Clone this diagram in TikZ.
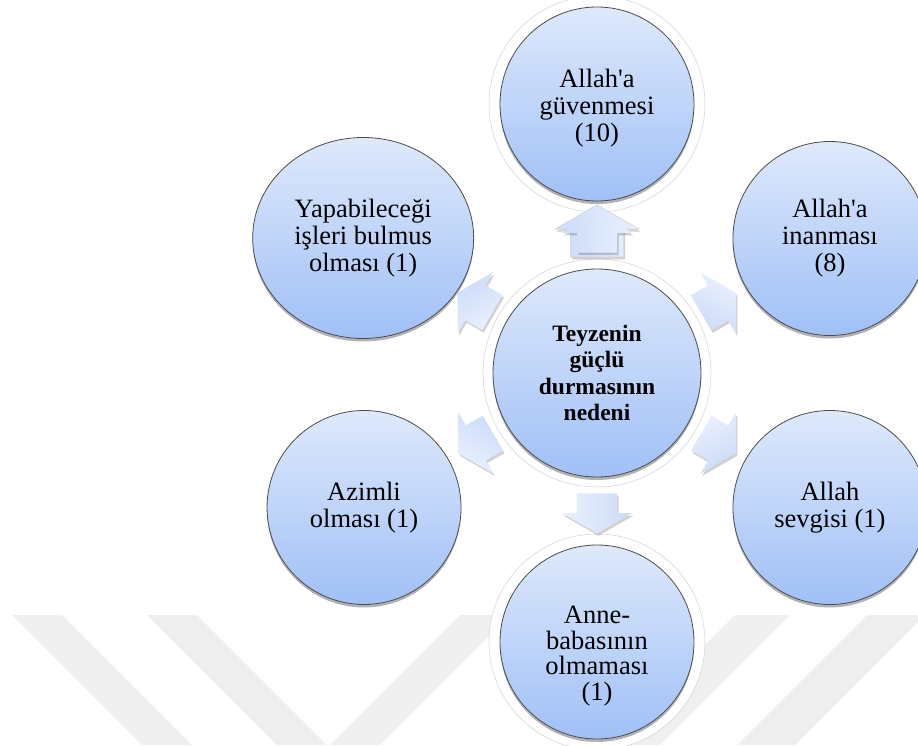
\documentclass[tikz,border=0pt]{standalone}
\usepackage{fontspec}
\setmainfont{Liberation Serif}
\usetikzlibrary{positioning,calc,shapes.arrows,shapes.geometric,shadows}

\definecolor{bubtop}{RGB}{222,233,252}
\definecolor{bubbot}{RGB}{160,192,246}
\definecolor{arrtop}{RGB}{234,241,253}
\definecolor{arrbot}{RGB}{203,219,249}
\definecolor{wmark}{RGB}{239,239,239}

\begin{document}
\begin{tikzpicture}[x=1pt, y=1pt,
  bubble/.style={circle, draw=black!70, line width=0.8pt,
                 top color=bubtop, bottom color=bubbot,
                 minimum size=194pt, inner sep=0pt, align=center,
                 font=\fontsize{26.5}{27}\selectfont,
                 drop shadow={shadow xshift=0pt, shadow yshift=-3pt,
                              fill=black, opacity=0.3}},
  hub/.style={bubble, minimum size=208pt,
              font=\fontsize{23.5}{26.5}\selectfont\bfseries},
  halorim/.style={draw=black!18, line width=0.5pt, fill=white},
  blockarr/.style={single arrow, single arrow head extend=15pt,
                   single arrow tip angle=120, minimum height=40pt,
                   minimum width=70pt, inner xsep=0pt, inner ysep=20pt,
                   draw=none, top color=arrtop, bottom color=arrbot,
                   rotate=#1, shading angle=-#1,
                   drop shadow={shadow xshift=1.5pt, shadow yshift=-2.5pt,
                                fill=black, opacity=0.18}}
]
\useasboundingbox (-597,-372) rectangle (321,373);

% watermark stripes
\fill[wmark] (-585,-242) -- (-535,-242) -- (-405,-372) -- (-455,-372) -- cycle;
\fill[wmark] (-450,-242) -- (-400,-242) -- (-270,-372) -- (-320,-372) -- cycle;
\fill[wmark] (-137,-242) -- (-87,-242) -- (-217,-372) -- (-267,-372) -- cycle;
\fill[wmark] (138,-242) -- (193,-242) -- (63,-372) -- (8,-372) -- cycle;
\fill[wmark] (270,-242) -- (328,-242) -- (198,-372) -- (140,-372) -- cycle;

% glow rims
\filldraw[halorim] (0,0) circle (114);
\filldraw[halorim] (90:269) circle (108);
\filldraw[halorim] (-90:269) circle (108);

\node[hub] (hub) at (0,0) {Teyzenin\\güçlü\\durmasının\\nedeni};

\node[bubble] (guven) at (90:269)  {\rule{0pt}{27pt}Allah\textquotesingle a\\güvenmesi\\(10)};
\node[bubble] (inan)  at (30:269)  {Allah\textquotesingle a\\inanması\\(8)};
\node[bubble] (sevgi) at (-30:269) {Allah\\sevgisi (1)};
\node[bubble, font=\fontsize{26.5}{25.5}\selectfont] (anne) at (-90:269)
      {\rule{0pt}{46pt}Anne-\\babasının\\olmaması\\(1)};
\node[bubble] (azim)  at (210:269) {Azimli\\olması (1)};
\node[bubble, ellipse, minimum width=221pt, minimum height=201pt]
      (isler) at (150:270) {Yapabileceği\\işleri bulmus\\olması (1)};

% block arrows, from hub outwards
\node[blockarr=90, minimum height=52pt, minimum width=84pt, inner ysep=26pt,
      fill=white, draw=black!18, line width=0.5pt, drop shadow={opacity=0}]
      (guvenrim) at ($(hub)!.5!(guven)$) {};
\node[blockarr=90]  (a1) at ($(hub)!.5!(guven)$) {};
\node[blockarr=30]  (a2) at ($(hub)!.5!(inan)$)  {};
\node[blockarr=-30] (a3) at ($(hub)!.5!(sevgi)$) {};
\node[blockarr=-90] (a4) at ($(hub)!.5!(anne)$)  {};
\node[blockarr=210] (a5) at ($(hub)!.5!(azim)$)  {};
\node[blockarr=150] (a6) at ($(hub)!.5!(isler)$) {};
\end{tikzpicture}
\end{document}
